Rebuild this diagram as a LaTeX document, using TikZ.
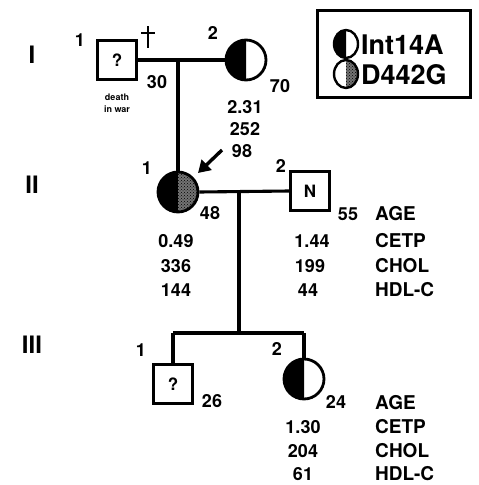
\documentclass[tikz,border=0pt]{standalone}
\usepackage{fontspec}
\setmainfont{TeX Gyre Heros}
\usetikzlibrary{patterns,arrows.meta}
\begin{document}
\begin{tikzpicture}[x=1pt,y=1pt,
  ln/.style={line width=3.1pt},
  sq/.style={draw,line width=2.8pt,minimum size=39pt,inner sep=0pt,font=\bfseries\fontsize{17}{17}\selectfont},
  ci/.style={draw,circle,line width=2.8pt,minimum size=40pt,inner sep=0pt},
  txt/.style={font=\bfseries\fontsize{18}{18}\selectfont,inner sep=0pt},
  lab/.style={font=\bfseries\fontsize{19}{19}\selectfont,inner sep=0pt,anchor=west},
  gen/.style={font=\bfseries\fontsize{24}{24}\selectfont,inner sep=0pt},
  small/.style={font=\bfseries\fontsize{9}{9}\selectfont,inner sep=0pt},
  leg/.style={font=\bfseries\fontsize{27}{27}\selectfont,inner sep=0pt,anchor=west},
  stip/.style={pattern=crosshatch dots,pattern color=black},
]
\useasboundingbox (0,0) rectangle (479,-485);

% generation labels
\node[gen] (gI) at (32,-55) {I};
\node[gen] (gII) at (32,-185) {II};
\node[gen] (gIII) at (32,-345) {III};

% centres
\coordinate (ci2) at (246,-60);
\coordinate (cii1) at (178,-192);
\coordinate (ciii2) at (304,-379);

% fills
\fill (ci2) ++(0,-20) arc[start angle=-90,end angle=-270,radius=20pt] -- cycle;
\fill (cii1) ++(0,-20) arc[start angle=-90,end angle=-270,radius=20pt] -- cycle;
\fill[black!55] (cii1) ++(0,-20) arc[start angle=-90,end angle=90,radius=20pt] -- cycle;
\fill[stip] (cii1) ++(0,-20) arc[start angle=-90,end angle=90,radius=20pt] -- cycle;
\fill (ciii2) ++(0,-20) arc[start angle=-90,end angle=-270,radius=20pt] -- cycle;

% individuals
\node[sq] (i1) at (117,-60) {?};
\node[ci] (i2) at (ci2) {};
\node[ci] (ii1) at (cii1) {};
\node[sq] (ii2) at (310,-191) {N};
\node[sq] (iii1) at (173,-384) {?};
\node[ci] (iii2) at (ciii2) {};

% connectors
\draw[ln] (i1.east) -- (i2.west);
\coordinate (m1) at (178,-60);
\draw[ln] (m1) -- (ii1.north);
\draw[ln] (ii1.east) -- (ii2.west);
\coordinate (m2) at (239,-191);
\coordinate (sib) at (239,-333);
\draw[ln] (m2) -- (sib);
\coordinate (s1) at (173,-333);
\coordinate (s2) at (304,-333);
\draw[ln] (s1) -- (s2);
\draw[ln] (s1) -- (iii1.north);
\draw[ln] (s2) -- (iii2.north);

% dagger
\coordinate (d1) at (148,-26);
\coordinate (d2) at (148,-48);
\coordinate (d3) at (141,-33);
\coordinate (d4) at (155,-33);
\draw[line width=2.6pt] (d1) -- (d2) (d3) -- (d4);

% proband arrow
\coordinate (at) at (222,-150);
\coordinate (ah) at (198,-173);
\draw[line width=3.4pt,-{Triangle[length=12pt,width=14pt]}] (at) -- (ah);

% generation I texts
\node[txt] (n11) at (80,-40) {1};
\node[txt] (a11) at (157,-82) {30};
\node[small] (dw1) at (117,-97) {death};
\node[small] (dw2) at (117,-109) {in war};
\node[txt] (n12) at (213,-33) {2};
\node[txt] (a12) at (280,-86) {70};
\node[txt] (v121) at (245,-107) {2.31};
\node[txt] (v122) at (245,-129) {252};
\node[txt] (v123) at (242,-151) {98};

% generation II texts
\node[txt] (n21) at (147,-168) {1};
\node[txt] (n22) at (281,-166) {2};
\node[txt] (a21) at (210,-213) {48};
\node[txt] (a22) at (348,-214) {55};
\node[txt] (v211) at (176,-241) {0.49};
\node[txt] (v212) at (176,-266) {336};
\node[txt] (v213) at (176,-290) {144};
\node[txt] (v221) at (312,-241) {1.44};
\node[txt] (v222) at (310,-266) {199};
\node[txt] (v223) at (308,-290) {44};
\node[lab] (l21) at (375,-214) {AGE};
\node[lab] (l22) at (375,-241) {CETP};
\node[lab] (l23) at (375,-266) {CHOL};
\node[lab] (l24) at (375,-290) {HDL-C};

% generation III texts
\node[txt] (n31) at (141,-350) {1};
\node[txt] (n32) at (277,-349) {2};
\node[txt] (a31) at (212,-401) {26};
\node[txt] (a32) at (336,-402) {24};
\node[txt] (v321) at (303,-427) {1.30};
\node[txt] (v322) at (303,-451) {204};
\node[txt] (v323) at (303,-474) {61};
\node[lab] (l31) at (375,-403) {AGE};
\node[lab] (l32) at (375,-427) {CETP};
\node[lab] (l33) at (375,-451) {CHOL};
\node[lab] (l34) at (375,-474) {HDL-C};

% legend
\node[draw,line width=2.2pt,minimum width=153pt,minimum height=87pt,inner sep=0pt] (legbox) at (394,-54) {};
\coordinate (lc1) at (346,-44);
\coordinate (lc2) at (346,-74);
\fill (lc1) ++(0,-14) arc[start angle=-90,end angle=-270,x radius=12pt,y radius=14pt] -- cycle;
\fill[black!55] (lc2) ++(0,-14) arc[start angle=-90,end angle=90,x radius=12pt,y radius=14pt] -- cycle;
\fill[stip] (lc2) ++(0,-14) arc[start angle=-90,end angle=90,x radius=12pt,y radius=14pt] -- cycle;
\draw[line width=2.4pt] (lc1) ellipse[x radius=12pt,y radius=14pt];
\draw[line width=2.4pt] (lc2) ellipse[x radius=12pt,y radius=14pt];
\node[leg] (t1) at (361,-45) {Int14A};
\node[leg] (t2) at (361,-75) {D442G};
\end{tikzpicture}
\end{document}
